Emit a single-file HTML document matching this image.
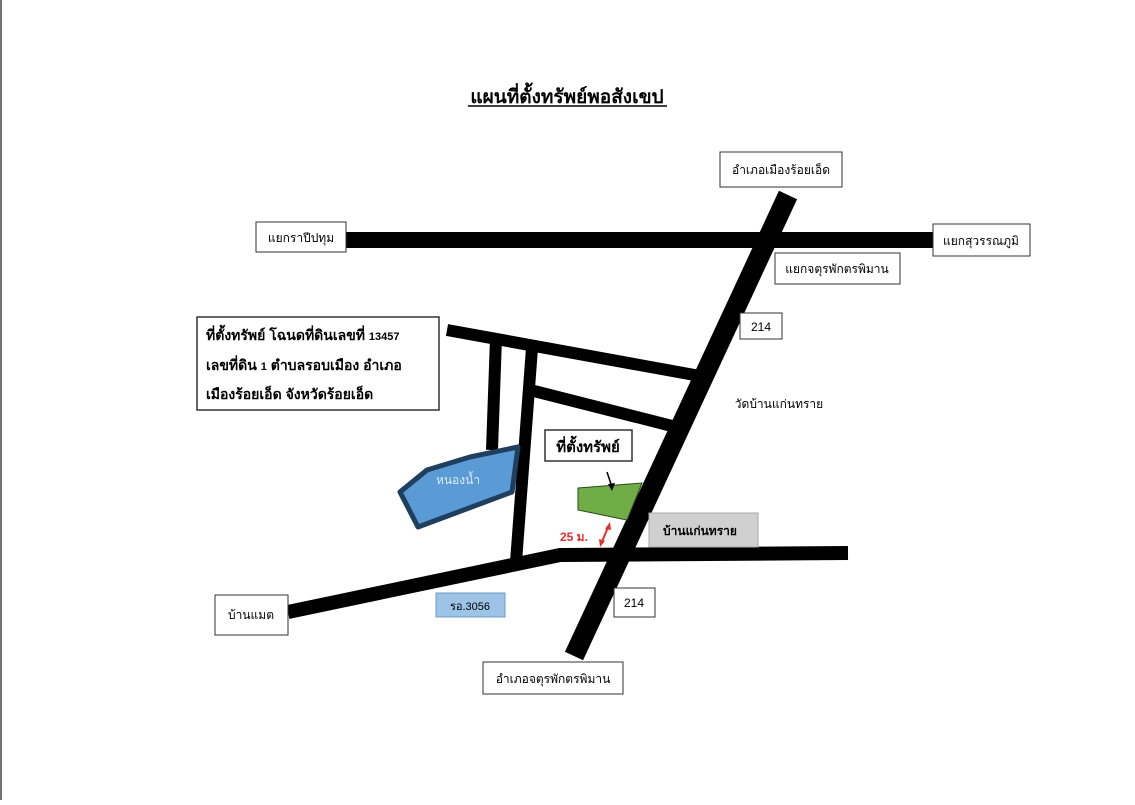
<!DOCTYPE html>
<html><head><meta charset="utf-8"><style>
body{margin:0;background:#fff}
svg text{font-family:"Liberation Sans","Noto Sans CJK SC","WenQuanYi Zen Hei",sans-serif}
</style></head><body>
<svg width="1135" height="800" viewBox="0 0 1135 800" xmlns="http://www.w3.org/2000/svg">
<rect width="1135" height="800" fill="#fff"/>
<line x1="1" y1="0" x2="1" y2="800" stroke="#444" stroke-width="1.5"/>
<text x="567" y="103" font-size="19" font-weight="bold" text-anchor="middle">แผนที่ตั้งทรัพย์พอสังเขป</text>
<line x1="468" y1="106" x2="667" y2="106" stroke="#000" stroke-width="1.5"/>
<g stroke="#000" fill="none">
<line x1="345" y1="240" x2="935" y2="240" stroke-width="16"/>
<line x1="447" y1="330" x2="700" y2="376" stroke-width="12"/>
<line x1="530" y1="390" x2="672" y2="426" stroke-width="12"/>
<line x1="496" y1="338" x2="492" y2="450" stroke-width="12"/>
<line x1="532" y1="348" x2="516" y2="562" stroke-width="12"/>
<polyline points="288,612 560,555 848,553" stroke-width="14"/>
<line x1="788" y1="195" x2="574" y2="656" stroke-width="20"/>
</g>
<polygon points="400,492 427,470 470,457 518,447 512,492 418,527" fill="#5b9bd5" stroke="#1f3f5f" stroke-width="5" stroke-linejoin="round"/>
<text x="458" y="484" font-size="12" fill="#dbe8f5" text-anchor="middle">หนองน้ำ</text>
<polygon points="578,488 642,483 627,520 578,510" fill="#70ad47" stroke="#2a4a1a" stroke-width="1"/>
<line x1="607" y1="472" x2="612" y2="487" stroke="#000" stroke-width="1.5"/>
<polygon points="612,491 608,484 615,483" fill="#000"/>
<text x="560" y="541" font-size="12" font-weight="bold" fill="#e03030">25 ม.</text>
<line x1="601" y1="544" x2="609" y2="525" stroke="#e03030" stroke-width="2"/>
<polygon points="610,522 605,529 611,530" fill="#e03030"/>
<polygon points="600,547 599,539 605,541" fill="#e03030"/>
<g fill="#fff" stroke="#333" stroke-width="1">
<rect x="720" y="152" width="122" height="35"/>
<rect x="256" y="222" width="90" height="30"/>
<rect x="933" y="224" width="97" height="32"/>
<rect x="775" y="253" width="125" height="31"/>
<rect x="740" y="313" width="42" height="26"/>
<rect x="197" y="317" width="242" height="93" stroke-width="1.5"/>
<rect x="545" y="430" width="87" height="31" stroke-width="1.5"/>
<rect x="614" y="588" width="41" height="29"/>
<rect x="215" y="595" width="73" height="40"/>
<rect x="483" y="662" width="140" height="32"/>
</g>
<rect x="649" y="513" width="109" height="34" fill="#d0d0d0" stroke="#aaa"/>
<rect x="436" y="593" width="69" height="24" fill="#9dc3e6" stroke="#6a9cc8"/>
<g font-size="12" text-anchor="middle" fill="#000">
<text x="781" y="174">อำเภอเมืองร้อยเอ็ด</text>
<text x="301" y="242">แยกราปีปทุม</text>
<text x="981" y="245">แยกสุวรรณภูมิ</text>
<text x="837" y="273">แยกจตุรพักตรพิมาน</text>
<text x="761" y="331">214</text>
<text x="779" y="408">วัดบ้านแก่นทราย</text>
<text x="634" y="607">214</text>
<text x="251" y="619">บ้านแมต</text>
<text x="553" y="683">อำเภอจตุรพักตรพิมาน</text>
<text x="470" y="610" font-size="11">รอ.3056</text>
<text x="700" y="535" font-weight="bold">บ้านแก่นทราย</text>
<text x="588" y="452" font-size="15" font-weight="bold">ที่ตั้งทรัพย์</text>
</g>
<g font-size="14" font-weight="bold" fill="#000">
<text x="206" y="340">ที่ตั้งทรัพย์ โฉนดที่ดินเลขที่ <tspan font-size="11">13457</tspan></text>
<text x="206" y="370">เลขที่ดิน <tspan font-size="11">1</tspan> ตำบลรอบเมือง อำเภอ</text>
<text x="206" y="399">เมืองร้อยเอ็ด จังหวัดร้อยเอ็ด</text>
</g>
</svg>
</body></html>
